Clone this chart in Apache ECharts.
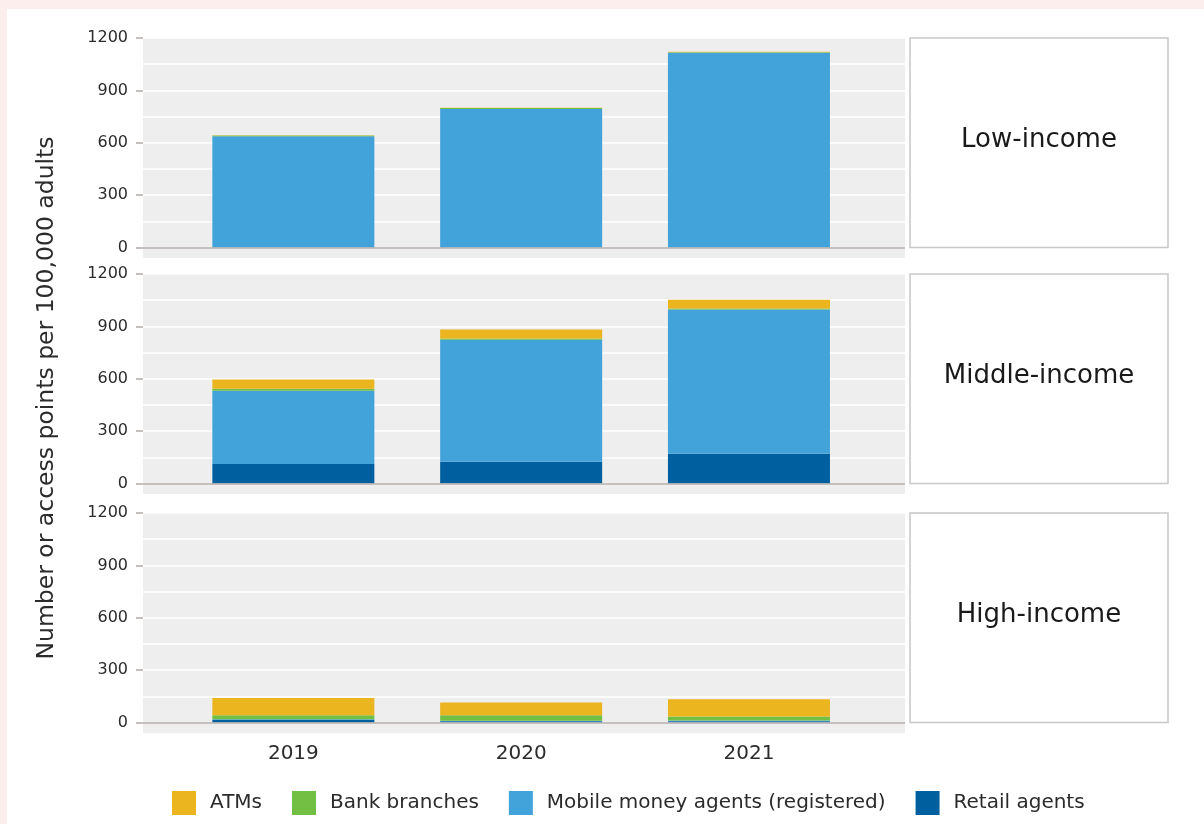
<!DOCTYPE html>
<html>
<head>
<meta charset="utf-8">
<script src="https://cdn.jsdelivr.net/npm/echarts@6/dist/echarts.min.js"></script>
<style>
html,body{margin:0;padding:0;background:#fdeeee;}
#main{width:1204px;height:824px;}
</style>
</head>
<body>
<div id="main"></div>
<script>
// ---- data ----
const years = [2019, 2020, 2021];
const seriesNames = ['ATMs', 'Bank branches', 'Mobile money agents (registered)', 'Retail agents'];
const panelNames = ['Low-income', 'Middle-income', 'High-income'];
const yTicks = [0, 300, 600, 900, 1200];
const yGrid = [0, 150, 300, 450, 600, 750, 900, 1050, 1200];

const lowRetail = [0, 0, 0];
const lowMobile = [637, 794, 1116];
const lowBank = [5, 5, 2];
const lowATM = [1, 1, 3];

const midRetail = [112, 124, 170];
const midMobile = [419, 699, 826];
const midBank = [12, 7, 6];
const midATM = [53, 52, 51];

const highRetail = [15, 8, 8];
const highMobile = [4, 2, 3];
const highBank = [23, 32, 23];
const highATM = [99, 72, 99];

// ---- styling ----
const FONT = 'DejaVu Sans';
const colors = {
  'ATMs': '#ebb51f',
  'Bank branches': '#72bf44',
  'Mobile money agents (registered)': '#42a2da',
  'Retail agents': '#005f9f'
};
const gridTops = [38, 274, 513];
const gridH = 220;
const gridLeft = 143, gridW = 762;

const panels = [
  {retail: lowRetail, mobile: lowMobile, bank: lowBank, atm: lowATM},
  {retail: midRetail, mobile: midMobile, bank: midBank, atm: midATM},
  {retail: highRetail, mobile: highMobile, bank: highBank, atm: highATM}
];

const grids = [], xAxes = [], yAxes = [], series = [], graphics = [];

graphics.push({type: 'rect', z: -100, silent: true, shape: {x: 7, y: 9, width: 1197, height: 815}, style: {fill: '#ffffff'}});

// rows are [value, year]; encode maps them so the stack runs on the y (value) dimension
function rows(vals) { return years.map((y, i) => [vals[i], y]); }

panels.forEach((p, gi) => {
  grids.push({left: gridLeft, top: gridTops[gi], width: gridW, height: gridH, show: true,
    backgroundColor: '#eeeeee', borderWidth: 0, containLabel: false});
  xAxes.push({
    type: 'value', gridIndex: gi, min: 2018.34, max: 2021.685,
    axisLine: {show: false}, splitLine: {show: false},
    axisTick: {show: false, customValues: years},
    axisLabel: {show: gi === 2, customValues: years, formatter: v => String(Math.round(v)),
      fontFamily: FONT, fontSize: 20, color: '#2b2b2b', margin: 11}
  });
  yAxes.push({
    type: 'value', gridIndex: gi, min: -60, max: 1200, position: 'left',
    axisLine: {show: false},
    axisTick: {show: false, customValues: yGrid},
    splitLine: {show: true, lineStyle: {color: '#ffffff', width: 1.5}},
    axisLabel: {customValues: yTicks, formatter: v => String(v), fontFamily: FONT, fontSize: 16, color: '#2b2b2b', margin: 15}
  });
  yAxes.push({
    type: 'value', gridIndex: gi, min: -60, max: 1200, position: 'left',
    axisLine: {show: false},
    axisTick: {show: true, length: 7, customValues: yTicks, lineStyle: {color: '#b3aca8', width: 1.5}},
    splitLine: {show: false},
    axisLabel: {show: false}
  });
  const stackKey = 'p' + gi;
  const order = [
    ['Retail agents', p.retail],
    ['Mobile money agents (registered)', p.mobile],
    ['Bank branches', p.bank],
    ['ATMs', p.atm]
  ];
  order.forEach(([name, vals], k) => {
    const s = {
      type: 'bar', name: name, stack: stackKey, xAxisIndex: gi, yAxisIndex: gi * 2,
      data: rows(vals), encode: {x: 1, y: 0}, barWidth: 162,
      itemStyle: {color: colors[name]}
    };
    if (k === 0) {
      s.markLine = {silent: true, symbol: ['none', 'none'], label: {show: false},
        lineStyle: {color: '#b3aca8', width: 1.5, type: 'solid'}, data: [{yAxis: 0}]};
    }
    series.push(s);
  });
  // strip box
  const boxTop = gridTops[gi];
  const boxH = gridH * 1200 / 1260;
  graphics.push({type: 'rect', silent: true, shape: {x: 910, y: boxTop, width: 258, height: boxH},
    style: {fill: '#ffffff', stroke: '#c8c8c8', lineWidth: 1.5}});
  graphics.push({type: 'text', silent: true, x: 1039, y: boxTop + boxH / 2 - 3,
    style: {text: panelNames[gi], font: '26px "' + FONT + '"', fill: '#1a1a1a', align: 'center', verticalAlign: 'middle'}});
});

graphics.push({type: 'text', silent: true, x: 47, y: 398, rotation: Math.PI / 2,
  style: {text: 'Number or access points per 100,000 adults', font: '23.5px "' + FONT + '"', fill: '#2b2b2b',
    align: 'center', verticalAlign: 'middle'}});

const chart = echarts.init(document.getElementById('main'));
chart.setOption({
  animation: false,
  backgroundColor: '#fdeeee',
  grid: grids,
  xAxis: xAxes,
  yAxis: yAxes,
  legend: {
    data: seriesNames, left: 172, top: 791, padding: 0, itemWidth: 24, itemHeight: 24, itemGap: 30,
    icon: 'rect', selectedMode: false,
    textStyle: {fontFamily: FONT, fontSize: 20, color: '#2b2b2b', padding: [0, 0, 0, 9]}
  },
  graphic: graphics,
  series: series
});
</script>
</body>
</html>
